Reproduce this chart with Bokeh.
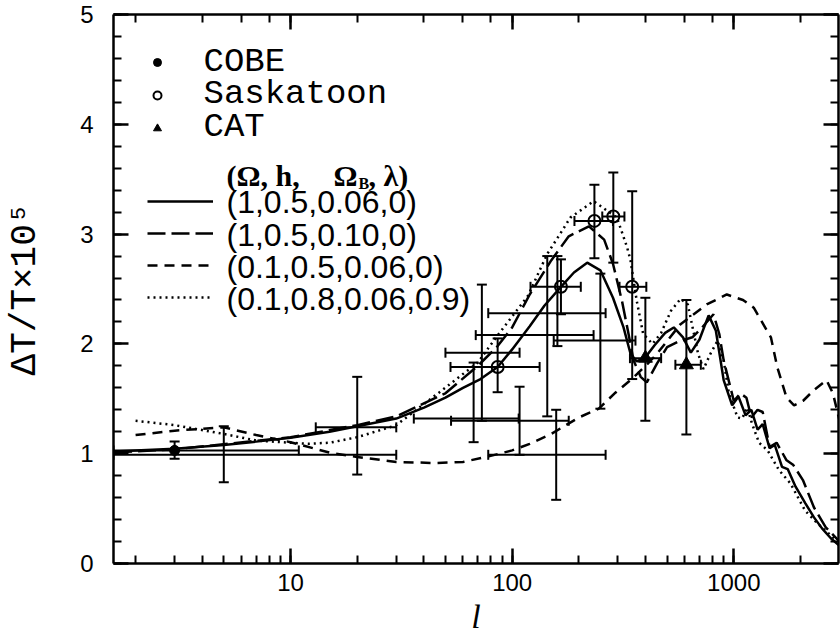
from bokeh.plotting import figure
from bokeh.models import (ColumnDataSource, Whisker, TeeHead, LogAxis, LinearAxis,
                          SingleIntervalTicker, LogTicker, Legend, LegendItem, Label, Range1d,
                          BasicTickFormatter, Title)
from bokeh.embed import file_html
from bokeh.resources import INLINE

# ---------------- model curves ----------------
l_solid = [1.6, 2, 3, 5, 7, 10, 15, 20, 30, 40, 50, 60, 72, 86, 100, 120, 140, 166, 190, 218,
           250, 285, 318, 342, 365, 400, 440, 490, 536, 590, 640, 700, 770, 830, 900, 983,
           1050, 1130, 1200, 1280, 1350, 1450, 1530, 1650, 1750, 1900, 2100, 2300, 2500, 2740, 3000]
v_solid = [1.02, 1.03, 1.045, 1.08, 1.11, 1.145, 1.20, 1.25, 1.32, 1.42, 1.51, 1.60, 1.68, 1.79, 1.95, 2.16, 2.35, 2.52, 2.65, 2.74,
           2.67, 2.42, 2.15, 1.91, 1.84, 1.88, 1.99, 2.10, 2.15, 2.06, 1.92, 2.04, 2.26, 2.12, 1.67, 1.44,
           1.52, 1.35, 1.40, 1.22, 1.27, 1.05, 1.08, 0.88, 0.86, 0.70, 0.55, 0.42, 0.32, 0.23, 0.16]

l_ldash = [1.6, 3, 10, 20, 30, 50, 70, 86, 100, 120, 150, 180, 222, 260, 285, 313, 335, 353, 380, 405,
           450, 500, 560, 650, 720, 810, 860, 900, 1000, 1070, 1140, 1200, 1280, 1350, 1450, 1560, 1730,
           1850, 2050, 2300, 2600, 3000]
v_ldash = [1.01, 1.04, 1.15, 1.26, 1.34, 1.55, 1.80, 1.98, 2.15, 2.45, 2.76, 2.98, 3.07, 2.95, 2.73, 2.39, 2.09, 1.85, 1.70, 1.65,
           1.82, 1.97, 2.02, 2.06, 2.15, 2.27, 2.09, 1.85, 1.48, 1.55, 1.51, 1.33, 1.40, 1.38, 1.06, 1.10, 0.94,
           0.90, 0.76, 0.51, 0.33, 0.20]

l_sdash = [2, 3, 5, 7, 10, 15, 20, 30, 45, 60, 80, 100, 120, 150, 200, 246, 290, 342, 400, 450, 575,
           755, 930, 1100, 1230, 1470, 1570, 1730, 1870, 2050, 2300, 2620, 2800, 3000]
v_sdash = [1.17, 1.21, 1.24, 1.17, 1.105, 1.01, 0.97, 0.925, 0.915, 0.925, 0.98, 1.03, 1.09, 1.18, 1.33, 1.41, 1.55, 1.67, 1.80, 1.91, 2.18,
           2.36, 2.45, 2.40, 2.33, 2.06, 1.79, 1.51, 1.44, 1.48, 1.58, 1.67, 1.55, 1.30]

l_dot = [2, 3, 5, 7, 10, 12, 15, 20, 30, 47, 70, 84, 118, 144, 162, 183, 233, 297, 330, 342, 365, 390, 430,
         470, 520, 575, 620, 690, 730, 780, 845, 900, 950, 1040, 1090, 1150, 1210, 1300, 1420, 1600, 1800,
         2100, 2400, 2800, 3000]
v_dot = [1.30, 1.26, 1.18, 1.12, 1.10, 1.09, 1.10, 1.15, 1.26, 1.56, 1.83, 2.05, 2.44, 2.82, 2.98, 3.15, 3.30, 3.15, 2.88, 2.76, 2.39, 2.09, 2.00,
         2.10, 2.30, 2.41, 2.36, 1.91, 1.77, 1.90, 2.03, 1.85, 1.55, 1.33, 1.32, 1.42, 1.27, 1.10, 1.03, 0.85, 0.73,
         0.48, 0.36, 0.24, 0.20]

# ---------------- data points ----------------
cobe_l = [3]; cobe_v = [1.03]; cobe_vlo = [0.955]; cobe_vhi = [1.11]; cobe_llo = [1.59]; cobe_lhi = [10.9]

sask_l = [86, 166, 235, 286, 348]
sask_v = [1.79, 2.52, 3.12, 3.16, 2.52]
sask_vlo = [1.56, 2.27, 2.78, 2.74, 1.68]
sask_vhi = [2.05, 2.77, 3.45, 3.56, 3.39]
sask_llo = [52.7, 121, 191, 255, 305]
sask_lhi = [133, 204, 285, 321, 403]

cat_l = [399, 611]
cat_v = [1.87, 1.81]
cat_vlo = [1.30, 1.175]
cat_vhi = [2.42, 2.40]
cat_llo = [340, 545]
cat_lhi = [470, 710]

oth_l = [5, 20, 67, 73, 108, 144, 158, 250, 160]
oth_v = [0.99, 1.24, 1.32, 1.92, 1.30, 2.08, 0.99, 2.03, 2.28]
oth_vlo = [0.74, 0.81, 1.105, 1.30, 0.99, 1.34, 0.58, 1.41, 1.98]
oth_vhi = [1.25, 1.70, 1.83, 2.54, 1.61, 2.80, 1.40, 2.64, 2.80]
oth_llo = [1.59, 13, 36, 50, 53, 68.5, 78, 154, 78]
oth_lhi = [30, 30, 107, 108, 180, 233, 264, 360, 264]

sym_labels = ["COBE", "Saskatoon", "CAT"]
model_header = ["(Ω, h,", "Ω", "B", ", λ)"]
model_labels = ["(1,0.5,0.06,0)", "(1,0.5,0.10,0)", "(0.1,0.5,0.06,0)", "(0.1,0.8,0.06,0.9)"]

XMIN, XMAX = 1.59, 2967
FB = 563.3  # frame bottom in canvas pixels (for screen-unit labels)
p = figure(width=840, height=644, x_axis_type="log", x_range=Range1d(XMIN, XMAX),
           y_range=Range1d(0, 5), output_backend="svg", toolbar_location=None,
           min_border_left=113, min_border_right=2, min_border_top=14, min_border_bottom=81)
p.grid.visible = False
p.outline_line_color = None
p.background_fill_color = "white"
p.border_fill_color = "white"

def style_axis(ax, labels=True):
    ax.axis_line_width = 2.5
    ax.axis_line_color = "black"
    ax.major_tick_in = 15
    ax.major_tick_out = 0
    ax.minor_tick_in = 8
    ax.minor_tick_out = 0
    ax.major_tick_line_width = 2.5
    ax.minor_tick_line_width = 2
    ax.major_tick_line_color = "black"
    ax.minor_tick_line_color = "black"
    if labels:
        ax.major_label_text_font = "Liberation Sans"
        ax.major_label_text_font_size = "24px"
        ax.major_label_text_color = "black"
    else:
        ax.major_label_text_font_size = "1px"
        ax.major_label_text_alpha = 0
        ax.major_label_standoff = 0

xa = p.xaxis[0]
style_axis(xa)
xa.formatter = BasicTickFormatter(use_scientific=False)
xa.major_label_standoff = 10

ya = p.yaxis[0]
ya.ticker = SingleIntervalTicker(interval=1, num_minor_ticks=5)
style_axis(ya)
ya.major_label_standoff = 20
ya.axis_label = "ΔT/T×10⁵"
ya.axis_label_text_font = "Liberation Mono"
ya.axis_label_text_font_style = "normal"
ya.axis_label_text_font_size = "36px"
ya.axis_label_text_color = "black"
ya.axis_label_standoff = 31

top = LogAxis(ticker=LogTicker())
style_axis(top, labels=False)
p.add_layout(top, "above")
right = LinearAxis(ticker=SingleIntervalTicker(interval=1, num_minor_ticks=5))
style_axis(right, labels=False)
p.add_layout(right, "right")

# x-axis title (italic l) as a title panel below the axis
p.add_layout(Title(text="l", align="center", text_font="Liberation Serif",
                   text_font_style="italic", text_font_size="34px", text_color="black",
                   standoff=5, offset=4), "below")

# ---------------- curves ----------------
r_solid = p.line(l_solid, v_solid, line_color="black", line_width=2.5)
r_ldash = p.line(l_ldash, v_ldash, line_color="black", line_width=2.5, line_dash="18 6")
r_sdash = p.line(l_sdash, v_sdash, line_color="black", line_width=2.5, line_dash="10 7")
r_dot = p.line(l_dot, v_dot, line_color="black", line_width=2.5, line_dash="2 4")

# ---------------- error bars ----------------
def errorbars(l, v, vlo, vhi, llo, lhi):
    src = ColumnDataSource(dict(l=l, v=v, vlo=vlo, vhi=vhi, llo=llo, lhi=lhi))
    wv = Whisker(source=src, base="l", lower="vlo", upper="vhi", dimension="height",
                 line_width=2, line_color="black",
                 upper_head=TeeHead(size=10, line_width=2), lower_head=TeeHead(size=10, line_width=2))
    wh = Whisker(source=src, base="v", lower="llo", upper="lhi", dimension="width",
                 line_width=2, line_color="black",
                 upper_head=TeeHead(size=10, line_width=2), lower_head=TeeHead(size=10, line_width=2))
    p.add_layout(wv)
    p.add_layout(wh)

errorbars(oth_l, oth_v, oth_vlo, oth_vhi, oth_llo, oth_lhi)
errorbars(cobe_l, cobe_v, cobe_vlo, cobe_vhi, cobe_llo, cobe_lhi)
errorbars(sask_l, sask_v, sask_vlo, sask_vhi, sask_llo, sask_lhi)
errorbars(cat_l, cat_v, cat_vlo, cat_vhi, cat_llo, cat_lhi)

r_cobe = p.scatter(cobe_l, cobe_v, marker="circle", size=10, fill_color="black", line_color="black")
r_sask = p.scatter(sask_l, sask_v, marker="circle", size=12, fill_alpha=0, line_color="black", line_width=2)
r_cat = p.scatter(cat_l, cat_v, marker="triangle", size=14, fill_color="black", line_color="black")

# ---------------- legends (glyph columns; texts as labels) ----------------
common = dict(orientation="vertical", label_text_font_size="1px", label_text_alpha=0,
              glyph_height=32, label_height=32, label_standoff=0,
              padding=0, margin=0, border_line_color=None, background_fill_alpha=0)
leg1 = Legend(items=[LegendItem(label=" ", renderers=[r]) for r in (r_cobe, r_sask, r_cat)],
              location=(34, 419), glyph_width=20, spacing=1, **common)
p.add_layout(leg1)
leg2 = Legend(items=[LegendItem(label=" ", renderers=[r]) for r in (r_solid, r_ldash, r_sdash, r_dot)],
              location=(34, 250), glyph_width=66, spacing=0, **common)
p.add_layout(leg2)

for txt, ycen in zip(sym_labels, [62, 94, 127]):
    p.add_layout(Label(x=203 - 113, y=FB - ycen, x_units="screen", y_units="screen", text=txt,
                       text_font="Liberation Mono", text_font_size="34px",
                       text_baseline="middle", text_align="left", text_color="black"))

for txt, ycen in zip(model_labels, [201.7, 235, 266.7, 298.3]):
    p.add_layout(Label(x=226 - 113, y=FB - ycen, x_units="screen", y_units="screen", text=txt,
                       text_font="Liberation Sans", text_font_size="32px",
                       text_baseline="middle", text_align="left", text_color="black"))

hy = FB - 175
for txt, x, y, size in zip(model_header, [113, 220, 245, 255], [hy, hy, hy - 8, hy],
                           ["30px", "30px", "16px", "30px"]):
    p.add_layout(Label(x=x, y=y, x_units="screen", y_units="screen", text=txt,
                       text_font="Liberation Serif", text_font_style="bold", text_font_size=size,
                       text_baseline="middle", text_align="left", text_color="black"))

open("out.html", "w").write(file_html(p, INLINE))
